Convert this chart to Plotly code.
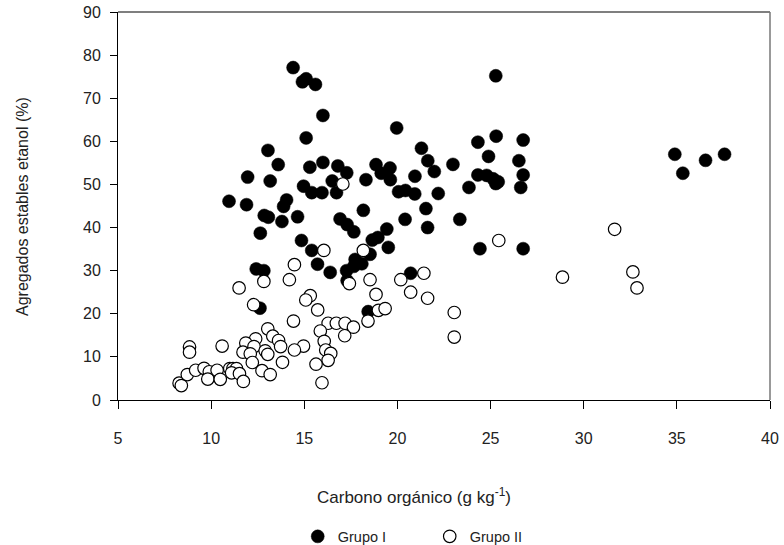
import plotly.graph_objects as go

# Grupo I (filled circles)
g1_x = [14.4, 15.1, 14.9, 15.6, 16.0, 15.1, 13.05, 13.6, 15.3, 16.0, 11.96, 13.17, 14.96, 15.4, 15.95,
        16.5, 10.96, 11.9, 14.05, 13.89, 12.85, 13.07, 13.8, 14.64, 12.64, 14.85, 15.4, 15.71, 16.39,
        12.42, 12.83, 12.62, 16.8, 17.28, 16.73, 18.85, 19.6, 19.13, 19.62, 18.31, 20.06, 20.43, 20.93,
        19.96, 21.29, 21.63, 21.98, 22.98, 20.94, 22.19, 21.53, 21.62, 20.41, 23.35, 25.28, 24.32, 25.3,
        26.75, 24.89, 26.52, 26.75, 24.32, 24.79, 25.14, 25.41, 25.28, 23.84, 26.62, 16.92, 17.3, 17.66,
        18.17, 19.43, 18.65, 18.95, 19.51, 18.53, 24.43, 26.75, 17.73, 18.09, 17.66, 17.27, 17.3, 20.71,
        18.43, 34.89, 35.32, 36.54, 37.56]
g1_y = [77.1, 74.5, 73.8, 73.2, 66.0, 60.8, 57.9, 54.6, 54.0, 55.1, 51.7, 50.8, 49.6, 48.1, 48.1,
        50.8, 46.1, 45.3, 46.4, 44.9, 42.8, 42.4, 41.4, 42.5, 38.7, 37.0, 34.7, 31.5, 29.6,
        30.4, 30.0, 21.3, 54.3, 52.7, 48.1, 54.6, 53.8, 52.6, 51.1, 51.1, 48.3, 48.6, 47.8,
        63.1, 58.4, 55.5, 53.0, 54.65, 51.9, 47.9, 44.4, 40.0, 41.9, 41.9, 75.2, 59.8, 61.2,
        60.3, 56.5, 55.5, 52.2, 52.2, 52.1, 51.3, 50.6, 50.2, 49.3, 49.3, 42.0, 40.7, 39.0,
        44.0, 39.65, 37.1, 37.7, 35.4, 33.8, 35.1, 35.1, 32.6, 31.6, 31.0, 30.0, 27.7, 29.4,
        20.5, 57.0, 52.6, 55.6, 57.0]

# Grupo II (open circles)
g2_x = [17.07, 16.05, 18.17, 14.47, 14.2, 12.83, 11.5, 15.32, 15.08, 15.72, 12.28, 17.42, 18.53, 18.85,
        20.18, 21.42, 20.71, 21.62, 25.44, 18.98, 19.34, 18.42, 23.05, 23.05, 16.28, 16.72, 17.19, 17.64,
        17.17, 15.86, 16.07, 16.15, 16.42, 16.28, 15.63, 14.96, 15.95, 31.66, 28.86, 32.64, 32.86, 14.42,
        13.04, 13.31, 13.62, 13.73, 12.39, 11.86, 12.3, 11.71, 12.1, 12.9, 13.04, 14.47, 10.59, 8.84,
        8.84, 12.21, 13.83, 12.73, 13.17, 8.28, 8.4, 8.72, 9.17, 9.62, 9.9, 9.82, 10.32, 10.49, 11.0,
        11.17, 11.36, 11.1, 11.52, 11.73]
g2_y = [50.1, 34.7, 34.7, 31.4, 27.9, 27.5, 26.0, 24.2, 23.2, 20.9, 22.1, 27.0, 27.9, 24.5,
        27.9, 29.4, 25.0, 23.6, 37.0, 20.8, 21.2, 18.3, 20.3, 14.6, 17.8, 17.8, 17.8, 16.9,
        14.9, 16.0, 13.6, 11.6, 10.8, 9.2, 8.3, 12.5, 4.0, 39.6, 28.5, 29.7, 26.0, 18.3,
        16.5, 14.8, 13.8, 12.4, 14.2, 13.2, 12.4, 11.1, 10.7, 11.4, 10.6, 11.6, 12.5, 12.3,
        11.1, 8.7, 8.75, 6.8, 5.9, 3.9, 3.35, 5.9, 6.9, 7.35, 6.55, 4.85, 6.9, 4.8, 7.3,
        7.3, 7.3, 6.3, 6.1, 4.3]

x_ticks = [5, 10, 15, 20, 25, 30, 35, 40]
y_ticks = [0, 10, 20, 30, 40, 50, 60, 70, 80, 90]

FONT = "Liberation Sans, Arial, sans-serif"
TXT = "#222"

L, R, T, B = 117.5, 13.5, 11.7, 145.4
PW = 784 - L - R
PH = 545 - T - B

def px_x(p):
    return (p - L) / PW

def px_y(p):
    return (545 - B - p) / PH

fig = go.Figure()
fig.add_trace(go.Scatter(
    x=g1_x, y=g1_y, mode="markers", name="Grupo I",
    marker=dict(symbol="circle", size=13, color="black", line=dict(color="black", width=0.5)),
))
fig.add_trace(go.Scatter(
    x=g2_x, y=g2_y, mode="markers", name="Grupo II",
    marker=dict(symbol="circle", size=12.5, color="white", line=dict(color="black", width=1.2)),
))

fig.update_layout(
    width=784, height=545,
    margin=dict(l=L, r=R, t=T, b=B, autoexpand=False),
    paper_bgcolor="white", plot_bgcolor="white",
    font=dict(family=FONT, size=16, color=TXT),
    showlegend=True,
    legend=dict(
        orientation="h", x=px_x(297.5), xanchor="left", y=px_y(536), yanchor="middle",
        font=dict(size=14.5, color=TXT), itemwidth=30,
        entrywidth=87, entrywidthmode="pixels",
        bgcolor="rgba(0,0,0,0)",
    ),
    xaxis=dict(
        range=[5, 40], tickvals=x_ticks, ticktext=[str(v) for v in x_ticks],
        showgrid=False, zeroline=False, showline=True, linecolor="black", linewidth=1,
        ticks="outside", ticklen=8, tickcolor="black", tickwidth=1,
        ticklabelstandoff=16, automargin=False,
        tickfont=dict(size=16, color=TXT),
    ),
    yaxis=dict(
        range=[0, 90], tickvals=y_ticks, ticktext=[str(v) for v in y_ticks],
        showgrid=False, zeroline=False, showline=True, linecolor="black", linewidth=1,
        ticks="outside", ticklen=7, tickcolor="black", tickwidth=1,
        ticklabelstandoff=6, automargin=False,
        tickfont=dict(size=16, color=TXT),
    ),
    shapes=[
        dict(type="line", xref="paper", yref="paper", x0=0, x1=1, y0=1, y1=1,
             line=dict(color="#555", width=1.5)),
        dict(type="line", xref="paper", yref="paper", x0=1, x1=1, y0=0, y1=1,
             line=dict(color="#777", width=1.5)),
    ],
    annotations=[
        dict(text="Carbono orgánico (g kg<sup>-1</sup>)", xref="paper", yref="paper",
             x=px_x(414), y=px_y(496), xanchor="center", yanchor="middle",
             showarrow=False, font=dict(size=17, color=TXT)),
        dict(text="Agregados estables etanol (%)", xref="paper", yref="paper",
             x=px_x(22), y=px_y(206), xanchor="center", yanchor="middle", textangle=-90,
             showarrow=False, font=dict(size=16, color=TXT)),
    ],
)

fig.write_html(
    "out.html",
    config={"displayModeBar": False},
    post_script="document.body.style.margin='0';document.body.style.overflow='hidden';",
)
